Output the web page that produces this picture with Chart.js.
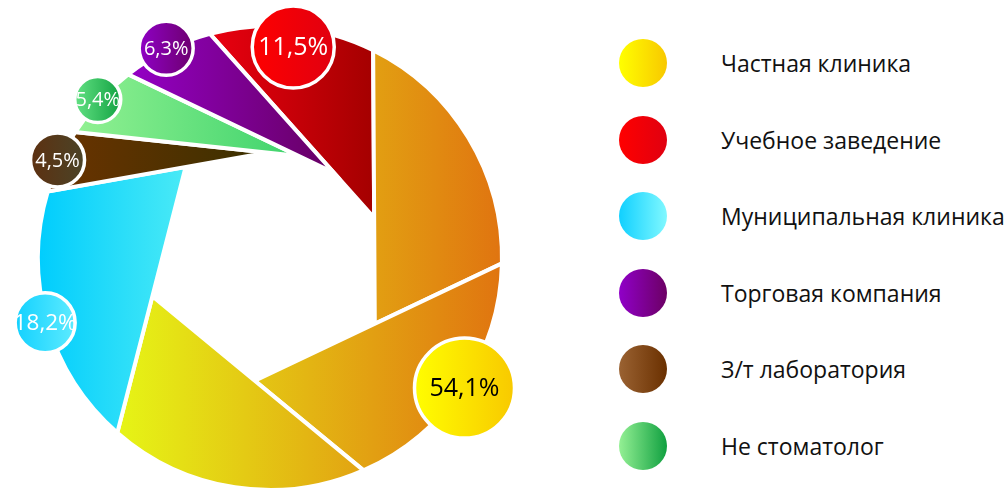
<!DOCTYPE html>
<html lang="ru">
<head>
<meta charset="utf-8">
<title>Тип организации</title>
<script src="https://cdn.jsdelivr.net/npm/chart.js"></script>
<style>
  html, body { margin: 0; padding: 0; background: #fff; }
  body { width: 1006px; height: 492px; position: relative; overflow: hidden; font-family: 'Open Sans', sans-serif; }
  #chartBox { position: absolute; left: 0; top: 0; width: 540px; height: 492px; }
  #legend { position: absolute; left: 619px; top: 39px; margin: 0; padding: 0; list-style: none; }
  #legend li { display: flex; align-items: center; height: 48px; margin-bottom: 28.6px; }
  #legend .dot { width: 48px; height: 48px; border-radius: 50%; flex: none; }
  #legend .txt { margin-left: 54px; font-size: 23px; color: #111; white-space: nowrap; }
</style>
</head>
<body>
<div id="chartBox"><canvas id="grafico"></canvas></div>
<ul id="legend"></ul>
<script>
const categories = ['Частная клиника', 'Учебное заведение', 'Муниципальная клиника', 'Торговая компания', 'З/т лаборатория', 'Не стоматолог'];
const shares = [54.1, 11.5, 18.2, 6.3, 4.5, 5.4];
// clockwise order of the slices, starting at the top
const ringOrder = [1, 0, 2, 4, 5, 3];

// styles (same order as categories)
const bladeFrom = ['#e6f516', '#ea0010', '#00cdfd', '#9400c6', '#6c3300', '#92f192'];
const bladeTo = ['#e07410', '#a40000', '#4aeaf6', '#660062', '#3a3000', '#3ed36c'];
const dotFrom = ['#ffff00', '#ff0000', '#10d0ff', '#9000c8', '#9a6232', '#94f094'];
const dotTo = ['#f8c800', '#e00010', '#80f8ff', '#6c0064', '#6a3000', '#10a040'];
const bubbleFrom = ['#ffff00', '#ff0000', '#10d0ff', '#9000c8', '#5e3010', '#66e486'];
const bubbleTo = ['#f8c800', '#e00010', '#60ecff', '#6c006c', '#4a4428', '#10a040'];
const bubbleSize = [52, 43, 32, 29, 29, 25];
const bubbleFont = [25, 25, 22.5, 20, 20, 20];
const bubbleText = ['#000000', '#ffffff', '#ffffff', '#ffffff', '#ffffff', '#ffffff'];

const MAX_BLADE = 70 * Math.PI / 180;

const BaseArc = Chart.ArcElement || Chart.elements.ArcElement;
const BaseDoughnut = Chart.DoughnutController || Chart.controllers.doughnut;

// arc drawn as an iris blade: outer arc + two straight edges tangent to the inner circle
class ShutterArc extends BaseArc {
  static id = 'shutterArc';
  draw(ctx) {
    const p = this.getProps(['x', 'y', 'startAngle', 'endAngle', 'outerRadius', 'innerRadius']);
    const o = this.options;
    const R = p.outerRadius;
    const sweep = p.endAngle - p.startAngle;
    if (sweep <= 0) return;
    const parts = Math.max(1, Math.ceil(sweep / MAX_BLADE));
    const phi = Math.acos(Math.min(p.innerRadius / R, 1));

    const blades = [];
    for (let k = 0; k < parts; k++) {
      const a0 = p.startAngle + sweep * k / parts;
      const a1 = p.startAngle + sweep * (k + 1) / parts;
      const half = (a1 - a0) / 2;
      blades.push({ a0, a1, tipA: a0 + half + phi, tipR: p.innerRadius / Math.cos(half) });
    }

    let minX = Infinity, maxX = -Infinity;
    blades.forEach(b => {
      for (let t = 0; t <= 24; t++) {
        const X = p.x + R * Math.cos(b.a0 + (b.a1 - b.a0) * t / 24);
        minX = Math.min(minX, X); maxX = Math.max(maxX, X);
      }
      const X = p.x + b.tipR * Math.cos(b.tipA);
      minX = Math.min(minX, X); maxX = Math.max(maxX, X);
    });

    const k = ringOrder[this._slot || 0];
    const grad = ctx.createLinearGradient(minX, 0, maxX, 0);
    grad.addColorStop(0, bladeFrom[k]);
    grad.addColorStop(1, bladeTo[k]);

    ctx.save();
    blades.forEach(b => {
      ctx.beginPath();
      ctx.moveTo(p.x + R * Math.cos(b.a0), p.y + R * Math.sin(b.a0));
      ctx.arc(p.x, p.y, R, b.a0, b.a1);
      ctx.lineTo(p.x + b.tipR * Math.cos(b.tipA), p.y + b.tipR * Math.sin(b.tipA));
      ctx.closePath();
      ctx.fillStyle = grad;
      ctx.fill();
      ctx.lineWidth = o.borderWidth;
      ctx.strokeStyle = o.borderColor;
      ctx.lineJoin = 'miter';
      ctx.stroke();
    });
    ctx.restore();
  }
}

class ShutterController extends BaseDoughnut {
  static id = 'shutter';
  static defaults = { dataElementType: 'shutterArc' };
  updateElement(element, index, properties, mode) {
    element._slot = index;
    super.updateElement(element, index, properties, mode);
  }
}

Chart.register(ShutterArc, ShutterController);

const fmt = v => v.toFixed(1).replace('.', ',') + '%';

// round percentage labels on the outer edge of each slice
const bubbles = {
  id: 'bubbles',
  afterDatasetsDraw(chart) {
    const ctx = chart.ctx;
    chart.getDatasetMeta(0).data.forEach((arc, i) => {
      const k = ringOrder[i];
      const p = arc.getProps(['x', 'y', 'startAngle', 'endAngle', 'outerRadius']);
      const a = p.startAngle + (p.endAngle - p.startAngle) * 0.5;
      const size = bubbleSize[k];
      let bx = p.x + (p.outerRadius + 2) * Math.cos(a);
      let by = p.y + (p.outerRadius + 2) * Math.sin(a);
      bx = Math.min(Math.max(bx, size + 4), chart.width - size - 4);
      by = Math.min(Math.max(by, size + 4), chart.height - size - 4);

      const g = ctx.createLinearGradient(bx - size, 0, bx + size, 0);
      g.addColorStop(0, bubbleFrom[k]);
      g.addColorStop(1, bubbleTo[k]);
      ctx.save();
      ctx.beginPath();
      ctx.arc(bx, by, size - 2, 0, Math.PI * 2);
      ctx.fillStyle = g;
      ctx.fill();
      ctx.lineWidth = 3.5;
      ctx.strokeStyle = '#ffffff';
      ctx.stroke();
      ctx.fillStyle = bubbleText[k];
      ctx.font = `${bubbleFont[k]}px 'Open Sans', sans-serif`;
      ctx.textAlign = 'center';
      ctx.textBaseline = 'middle';
      ctx.fillText(fmt(shares[k]), bx, by + 1);
      ctx.restore();
    });
  }
};

new Chart(document.getElementById('grafico'), {
  type: 'shutter',
  data: {
    labels: ringOrder.map(k => categories[k]),
    datasets: [{
      data: ringOrder.map(k => shares[k]),
      backgroundColor: ringOrder.map(k => bladeFrom[k]),
      borderColor: '#ffffff',
      borderWidth: 4,
      cutout: '45%',
      rotation: -15
    }]
  },
  options: {
    responsive: true,
    maintainAspectRatio: false,
    animation: false,
    layout: { padding: { top: 24, left: 36, right: 36, bottom: 0 } },
    plugins: {
      legend: { display: false },
      tooltip: { enabled: false }
    }
  },
  plugins: [bubbles]
});

// legend
const legend = document.getElementById('legend');
categories.forEach((name, i) => {
  legend.innerHTML += `
    <li>
      <span class="dot" style="background: linear-gradient(to right, ${dotFrom[i]}, ${dotTo[i]});"></span>
      <span class="txt">${name}</span>
    </li>`;
});
</script>
</body>
</html>
